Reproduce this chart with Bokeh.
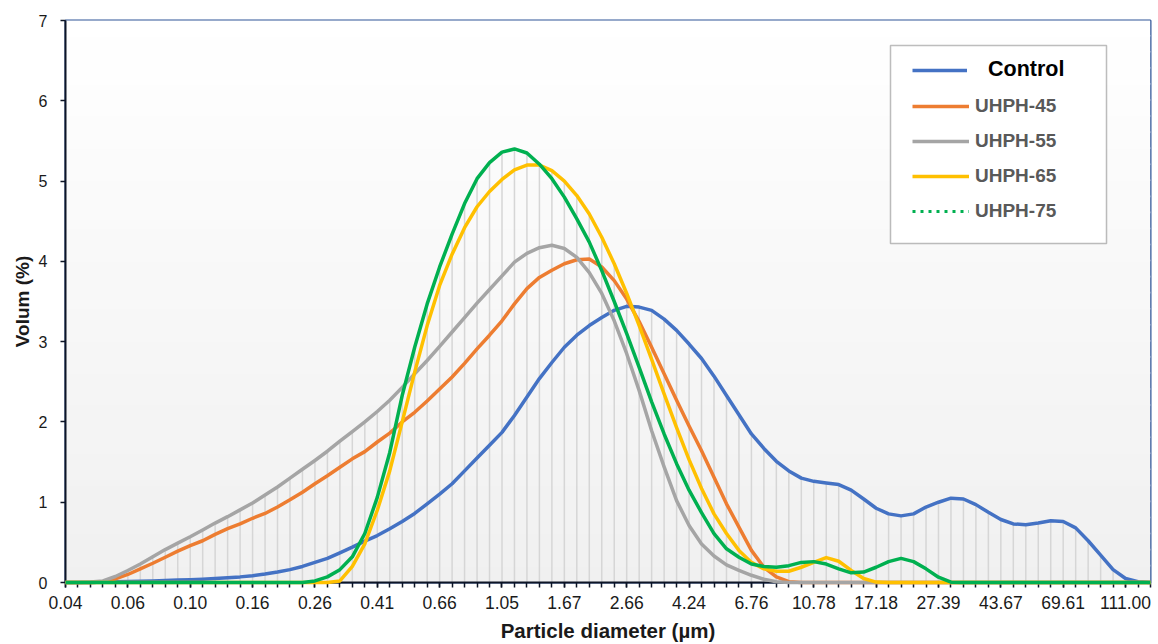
import math
from bokeh.plotting import figure
from bokeh.models import Range1d, FixedTicker, Legend, LegendItem, BoxAnnotation, Title
from bokeh.embed import file_html
from bokeh.resources import INLINE

# Particle size classes (µm), one category per class
diameters = [0.040, 0.044, 0.048, 0.053, 0.058, 0.064, 0.070, 0.077, 0.084, 0.093,
             0.102, 0.112, 0.122, 0.134, 0.148, 0.162, 0.178, 0.195, 0.214, 0.235,
             0.258, 0.284, 0.311, 0.342, 0.375, 0.412, 0.452, 0.496, 0.545, 0.598,
             0.657, 0.721, 0.791, 0.869, 0.953, 1.047, 1.149, 1.261, 1.385, 1.520,
             1.668, 1.832, 2.011, 2.207, 2.423, 2.660, 2.920, 3.205, 3.519, 3.863,
             4.240, 4.655, 5.110, 5.610, 6.158, 6.760, 7.421, 8.147, 8.943, 9.818,
             10.78, 11.83, 12.99, 14.26, 15.65, 17.18, 18.86, 20.71, 22.73, 24.95,
             27.39, 30.07, 33.01, 36.24, 39.78, 43.67, 47.94, 52.62, 57.77, 63.41,
             69.61, 76.42, 83.89, 92.09, 101.1, 111.0, 121.8, 133.7]

control = [0.0, 0.0, 0.0, 0.005, 0.01, 0.012, 0.015, 0.02, 0.025, 0.03,
           0.035, 0.042, 0.05, 0.06, 0.07, 0.085, 0.105, 0.13, 0.16, 0.2,
           0.25, 0.3, 0.37, 0.44, 0.515, 0.585, 0.67, 0.76, 0.86, 0.98,
           1.10, 1.23, 1.39, 1.55, 1.71, 1.87, 2.08, 2.31, 2.54, 2.74,
           2.93, 3.08, 3.2, 3.30, 3.39, 3.44, 3.43, 3.39, 3.28, 3.14,
           2.97, 2.79, 2.57, 2.33, 2.09, 1.85, 1.67, 1.51, 1.39, 1.30,
           1.26, 1.24, 1.22, 1.15, 1.04, 0.925, 0.855, 0.83, 0.855, 0.94,
           1.0, 1.05, 1.04, 0.97, 0.875, 0.785, 0.73, 0.72, 0.74, 0.77,
           0.76, 0.68, 0.52, 0.34, 0.16, 0.05, 0.01, 0.0]

uhph45 = [0.0, 0.0, 0.0, 0.005, 0.045, 0.1, 0.17, 0.24, 0.315, 0.39,
          0.46, 0.52, 0.6, 0.67, 0.73, 0.80, 0.86, 0.94, 1.03, 1.125,
          1.23, 1.33, 1.435, 1.54, 1.63, 1.75, 1.86, 2.0, 2.12, 2.26,
          2.41, 2.56, 2.73, 2.91, 3.08, 3.26, 3.47, 3.66, 3.80, 3.89,
          3.97, 4.02, 4.03, 3.93, 3.76, 3.53, 3.25, 2.93, 2.6, 2.27,
          1.95, 1.64, 1.31, 0.98, 0.69, 0.40, 0.19, 0.07, 0.01, 0.0,
          0.0, 0.0, 0.0, 0.0, 0.0, 0.0, 0.0, 0.0, 0.0, 0.0,
          0.0, 0.0, 0.0, 0.0, 0.0, 0.0, 0.0, 0.0, 0.0, 0.0,
          0.0, 0.0, 0.0, 0.0, 0.0, 0.0, 0.0, 0.0]

uhph55 = [0.0, 0.0, 0.005, 0.02, 0.075, 0.15, 0.23, 0.32, 0.41, 0.49,
          0.57, 0.655, 0.74, 0.82, 0.905, 0.99, 1.09, 1.19, 1.30, 1.41,
          1.52, 1.635, 1.76, 1.88, 2.0, 2.13, 2.27, 2.43, 2.6, 2.765,
          2.94, 3.12, 3.30, 3.48, 3.65, 3.82, 3.99, 4.10, 4.17, 4.20,
          4.16, 4.05, 3.86, 3.60, 3.26, 2.85, 2.39, 1.89, 1.44, 1.02,
          0.71, 0.48, 0.33, 0.22, 0.15, 0.09, 0.04, 0.01, 0.0, 0.0,
          0.0, 0.0, 0.0, 0.0, 0.0, 0.0, 0.0, 0.0, 0.0, 0.0,
          0.0, 0.0, 0.0, 0.0, 0.0, 0.0, 0.0, 0.0, 0.0, 0.0,
          0.0, 0.0, 0.0, 0.0, 0.0, 0.0, 0.0, 0.0]

uhph65 = [0.0, 0.0, 0.0, 0.0, 0.0, 0.0, 0.0, 0.0, 0.0, 0.0,
          0.0, 0.0, 0.0, 0.0, 0.0, 0.0, 0.0, 0.0, 0.0, 0.0,
          0.0, 0.0, 0.02, 0.2, 0.48, 0.90, 1.39, 2.0, 2.62, 3.2,
          3.70, 4.09, 4.42, 4.68, 4.87, 5.02, 5.14, 5.20, 5.20, 5.13,
          5.0, 4.82, 4.59, 4.30, 3.97, 3.60, 3.2, 2.78, 2.35, 1.93,
          1.53, 1.17, 0.855, 0.61, 0.40, 0.25, 0.17, 0.14, 0.14, 0.19,
          0.25, 0.31, 0.265, 0.15, 0.05, 0.005, 0.0, 0.0, 0.0, 0.0,
          0.0, 0.0, 0.0, 0.0, 0.0, 0.0, 0.0, 0.0, 0.0, 0.0,
          0.0, 0.0, 0.0, 0.0, 0.0, 0.0, 0.0, 0.0]

uhph75 = [0.0, 0.0, 0.0, 0.0, 0.0, 0.0, 0.0, 0.0, 0.0, 0.0,
          0.0, 0.0, 0.0, 0.0, 0.0, 0.0, 0.0, 0.0, 0.0, 0.0,
          0.02, 0.07, 0.16, 0.32, 0.61, 1.06, 1.62, 2.33, 2.93, 3.47,
          3.93, 4.34, 4.72, 5.03, 5.23, 5.36, 5.40, 5.35, 5.21, 5.03,
          4.80, 4.53, 4.24, 3.885, 3.5, 3.1, 2.68, 2.25, 1.85, 1.48,
          1.15, 0.87, 0.61, 0.42, 0.315, 0.23, 0.20, 0.19, 0.21, 0.25,
          0.26, 0.23, 0.17, 0.12, 0.13, 0.19, 0.26, 0.30, 0.26, 0.17,
          0.066, 0.004, 0.0, 0.0, 0.0, 0.0, 0.0, 0.0, 0.0, 0.0,
          0.0, 0.0, 0.0, 0.0, 0.0, 0.0, 0.0, 0.0]

series_names = ["Control", "UHPH-45", "UHPH-55", "UHPH-65", "UHPH-75"]
series_values = [control, uhph45, uhph55, uhph65, uhph75]
series_colors = ["#4472C4", "#ED7D31", "#A5A5A5", "#FFC000", "#00B050"]
y_ticks = [0, 1, 2, 3, 4, 5, 6, 7]
label_every = 5

FONT = "Liberation Sans"

x = list(range(len(diameters)))
tick_idx = x[::label_every]
tick_labels = {i: f"{diameters[i]:.2f}" for i in tick_idx}

p = figure(width=1158, height=644,
           x_range=Range1d(x[0], x[-1]), y_range=Range1d(y_ticks[0], y_ticks[-1]),
           output_backend="svg", toolbar_location=None,
           min_border_left=65, min_border_right=8, min_border_top=20, min_border_bottom=62)
p.xgrid.visible = False
p.ygrid.visible = False
p.border_fill_color = "white"
p.background_fill_color = "#f0f0f0"
p.outline_line_color = "#2F5597"
p.outline_line_width = 2

# dotted style used only by the UHPH-75 legend entry; it sits below the opaque
# background bands, so only its legend swatch is seen
dot_r = p.line(x, uhph75, line_color=series_colors[4], line_width=3, line_dash="3 5",
               level="image")

# soft vertical gradient of the plot area
nb = 35
y0r, y1r = y_ticks[0], y_ticks[-1]
for k in range(nb):
    b = y0r + (y1r - y0r) * k / nb
    t = y0r + (y1r - y0r) * (k + 1) / nb
    f = (k + 0.5) / nb
    g = int(round(0xF0 + (0xFF - 0xF0) * f))
    col = "#%02x%02x%02x" % (g, g, g)
    p.add_layout(BoxAnnotation(bottom=b, top=t + 0.02, fill_color=col, fill_alpha=1.0,
                               line_alpha=0, level="image"))

# drop lines: from axis up to the highest series at each class
maxv = [max(v) for v in zip(*series_values)]
p.segment(x0=x, y0=[0] * len(x), x1=x, y1=maxv, line_color="#d6d6d6", line_width=1.5)

renderers = []
for name, vals, col in zip(series_names, series_values, series_colors):
    r = p.line(x, vals, line_color=col, line_width=3.5, line_join="round", level="overlay")
    renderers.append(r)

# axes
axis_col = "#0d1526"
p.yaxis.ticker = FixedTicker(ticks=y_ticks)
p.yaxis.major_tick_out = 5
p.yaxis.major_tick_in = 0
p.yaxis.minor_tick_out = 0
p.yaxis.minor_tick_in = 0
p.yaxis.axis_line_color = axis_col
p.yaxis.axis_line_width = 2
p.yaxis.major_tick_line_color = axis_col
p.yaxis.major_tick_line_width = 1.5
p.yaxis.major_label_text_font = FONT
p.yaxis.major_label_text_font_size = "16px"
p.yaxis.major_label_text_color = "#1a1a1a"
p.yaxis.major_label_standoff = 13

p.xaxis.ticker = FixedTicker(ticks=tick_idx, minor_ticks=x)
p.xaxis.major_label_overrides = tick_labels
p.xaxis.major_tick_out = 5
p.xaxis.major_tick_in = 0
p.xaxis.minor_tick_out = 5
p.xaxis.minor_tick_in = 0
p.xaxis.axis_line_color = axis_col
p.xaxis.axis_line_width = 2
p.xaxis.major_tick_line_color = axis_col
p.xaxis.minor_tick_line_color = axis_col
p.xaxis.major_tick_line_width = 1.5
p.xaxis.minor_tick_line_width = 1.5
p.xaxis.major_label_text_font = FONT
p.xaxis.major_label_text_font_size = "17.5px"
p.xaxis.major_label_text_color = "#1a1a1a"
p.xaxis.major_label_standoff = 8
p.xaxis.axis_label = "Particle diameter (µm)"
p.xaxis.axis_label_text_font = FONT
p.xaxis.axis_label_text_font_style = "bold"
p.xaxis.axis_label_text_font_size = "20.5px"
p.xaxis.axis_label_text_color = "#1a1a1a"
p.xaxis.axis_label_standoff = 7

p.add_layout(Title(text="Volum (%)", align="center", offset=-14, standoff=6,
                   text_font=FONT, text_font_style="bold", text_font_size="19px",
                   text_color="#1a1a1a"), "left")

# legend frame
p.add_layout(BoxAnnotation(left=890, right=1106, top=45, bottom=243,
                           left_units="canvas", right_units="canvas",
                           top_units="canvas", bottom_units="canvas",
                           fill_color="white", fill_alpha=1.0,
                           line_color="#262626", line_width=1.5))

leg_a = Legend(items=[LegendItem(label=series_names[0], renderers=[renderers[0]])],
               location=(847, 500), padding=0, margin=0,
               border_line_alpha=0, background_fill_alpha=0,
               glyph_width=55, glyph_height=22, label_height=22, label_standoff=21,
               label_text_font=FONT, label_text_font_style="bold",
               label_text_font_size="21.5px", label_text_color="black")
leg_b = Legend(items=[LegendItem(label=series_names[1], renderers=[renderers[1]]),
                      LegendItem(label=series_names[2], renderers=[renderers[2]]),
                      LegendItem(label=series_names[3], renderers=[renderers[3]]),
                      LegendItem(label=series_names[4], renderers=[dot_r])],
               location=(847, 360), padding=0, margin=0, spacing=13,
               border_line_alpha=0, background_fill_alpha=0,
               glyph_width=57, glyph_height=22, label_height=22, label_standoff=6,
               label_text_font=FONT, label_text_font_style="bold",
               label_text_font_size="19px", label_text_color="#595959")
p.add_layout(leg_a)
p.add_layout(leg_b)

open("out.html", "w").write(file_html(p, INLINE))
